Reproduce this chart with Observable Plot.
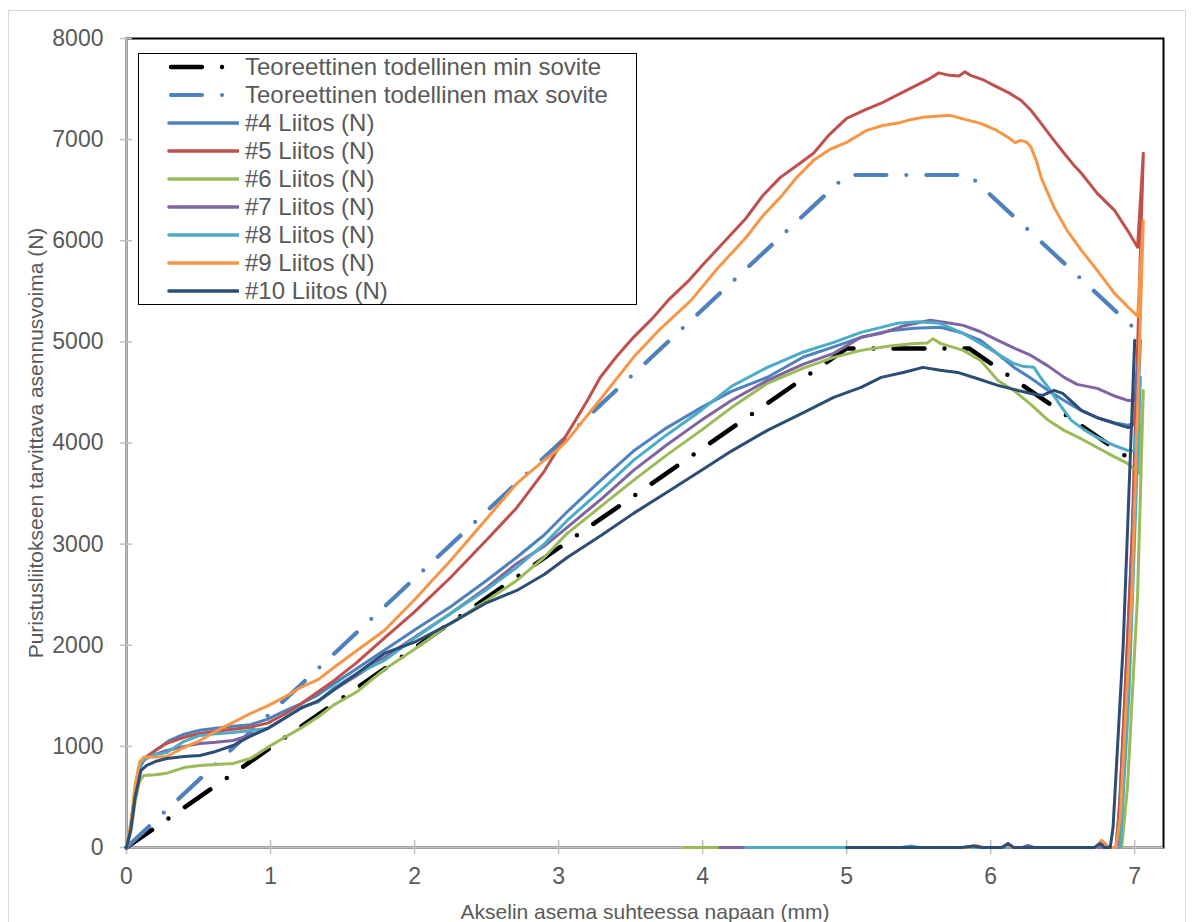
<!DOCTYPE html>
<html><head><meta charset="utf-8">
<script src="https://cdn.jsdelivr.net/npm/d3@7"></script>
<script src="https://cdn.jsdelivr.net/npm/@observablehq/plot@0.6"></script>
<style>
body{margin:0;background:#fff;}
#wrap{position:relative;width:1192px;height:922px;overflow:hidden;font-family:"Liberation Sans",Arial,sans-serif;}
#outer{position:absolute;left:8px;top:10px;width:1176px;height:930px;border:1.5px solid #d9d9d9;pointer-events:none;}
#legend{position:absolute;left:138px;top:53px;width:497px;height:250px;border:1.5px solid #000;background:#fff;}
.lrow{position:absolute;left:0;height:28px;display:flex;align-items:center;}
.lrow span{font-size:24px;color:#595959;margin-left:6px;white-space:nowrap;line-height:28px;}
</style></head><body><div id="wrap"></div>
<script>
// ---- data ----
const xTicks = [0, 1, 2, 3, 4, 5, 6, 7];
const yTicks = [0, 1000, 2000, 3000, 4000, 5000, 6000, 7000, 8000];
const xLabel = "Akselin asema suhteessa napaan (mm)";
const yLabel = "Puristusliitokseen tarvittava asennusvoima (N)";

const theoryNames = ["Teoreettinen todellinen min sovite", "Teoreettinen todellinen max sovite"];
const theoryColors = ["#000000", "#4f81bd"];
const theoryMin = [[0, 0], [5.0, 4935], [5.85, 4935], [7.0, 3810]];
const theoryMax = [[0, 0], [5.0, 6650], [5.85, 6650], [7.0, 5130]];

const seriesNames = ["#4 Liitos (N)", "#5 Liitos (N)", "#6 Liitos (N)", "#7 Liitos (N)", "#8 Liitos (N)", "#9 Liitos (N)", "#10 Liitos (N)"];
const seriesColors = ["#4f81bd", "#c0504d", "#9bbb59", "#8064a2", "#4bacc6", "#f79646", "#2c4d75"];

const s4 = [[0,0],[0.03,200],[0.06,550],[0.09,780],[0.12,860],[0.2,960],[0.3,1060],[0.4,1120],[0.51,1160],[0.62,1180],[0.74,1200],[0.86,1215],[0.98,1270],[1.1,1350],[1.21,1420],[1.33,1510],[1.44,1620],[1.6,1770],[1.79,1950],[2.0,2150],[2.25,2380],[2.5,2640],[2.71,2870],[2.9,3090],[3.06,3320],[3.3,3640],[3.52,3920],[3.75,4150],[3.99,4350],[4.2,4510],[4.45,4650],[4.7,4850],[4.91,4950],[5.1,5045],[5.3,5110],[5.47,5135],[5.65,5145],[5.8,5090],[5.93,5015],[6.05,4880],[6.16,4750],[6.28,4640],[6.4,4520],[6.51,4420],[6.63,4320],[6.74,4250],[6.86,4200],[6.95,4175],[7.0,4190],[7.04,5015],[6.95,2000],[6.89,300],[6.87,0],[6.8,0],[6.77,40],[6.73,0],[6.15,0],[6.12,20],[6.08,0],[5.92,0],[5.88,15],[5.82,0],[5.2,0]];
const s5 = [[0,0],[0.03,200],[0.06,560],[0.09,800],[0.12,880],[0.2,960],[0.28,1030],[0.4,1090],[0.51,1128],[0.62,1150],[0.74,1170],[0.86,1190],[0.98,1230],[1.1,1320],[1.21,1420],[1.33,1540],[1.44,1650],[1.6,1830],[1.79,2070],[2.0,2330],[2.25,2670],[2.5,3040],[2.71,3360],[2.9,3720],[3.06,4090],[3.2,4420],[3.29,4650],[3.4,4850],[3.52,5045],[3.65,5230],[3.76,5410],[3.9,5600],[4.0,5760],[4.15,5990],[4.3,6220],[4.42,6450],[4.54,6627],[4.65,6740],[4.77,6865],[4.88,7050],[5.0,7210],[5.12,7290],[5.24,7360],[5.35,7440],[5.46,7520],[5.58,7606],[5.64,7660],[5.7,7640],[5.78,7630],[5.82,7670],[5.86,7636],[5.95,7590],[6.05,7517],[6.13,7460],[6.21,7389],[6.28,7290],[6.35,7161],[6.43,7010],[6.51,6865],[6.57,6760],[6.63,6667],[6.74,6469],[6.86,6300],[6.95,6103],[7.02,5935],[7.06,6865],[6.98,3000],[6.9,500],[6.87,0],[6.82,0],[6.78,60],[6.73,0],[5.3,0]];
const s6 = [[0,0],[0.03,150],[0.06,450],[0.09,650],[0.12,712],[0.2,720],[0.28,735],[0.4,790],[0.51,811],[0.62,820],[0.74,831],[0.86,880],[0.98,990],[1.1,1090],[1.21,1180],[1.33,1290],[1.44,1410],[1.6,1540],[1.79,1760],[2.0,1960],[2.25,2216],[2.5,2440],[2.71,2641],[2.9,2870],[3.06,3106],[3.3,3380],[3.52,3630],[3.75,3880],[3.99,4125],[4.2,4350],[4.45,4590],[4.7,4740],[4.91,4847],[5.1,4916],[5.3,4960],[5.47,4985],[5.56,4990],[5.6,5030],[5.65,4985],[5.81,4916],[5.93,4817],[6.05,4619],[6.16,4520],[6.28,4380],[6.4,4224],[6.51,4125],[6.63,4040],[6.74,3956],[6.85,3870],[6.95,3798],[7.03,3700],[7.06,4520],[7.02,2500],[6.95,600],[6.91,0],[6.8,0],[3.87,0]];
const s7 = [[0,0],[0.03,200],[0.06,550],[0.09,790],[0.12,870],[0.2,920],[0.28,960],[0.4,1000],[0.51,1029],[0.62,1040],[0.74,1058],[0.86,1110],[0.98,1177],[1.1,1280],[1.21,1385],[1.33,1440],[1.44,1560],[1.6,1700],[1.79,1880],[2.0,2080],[2.25,2315],[2.5,2570],[2.71,2809],[2.9,2980],[3.06,3165],[3.3,3450],[3.52,3729],[3.75,3980],[3.99,4224],[4.2,4420],[4.45,4619],[4.7,4780],[4.91,4886],[5.1,5045],[5.24,5084],[5.4,5160],[5.58,5213],[5.7,5190],[5.81,5163],[5.93,5100],[6.05,5015],[6.16,4940],[6.28,4866],[6.4,4760],[6.51,4649],[6.6,4580],[6.74,4540],[6.85,4470],[6.95,4421],[7.0,4420],[7.03,4900],[6.95,1500],[6.89,0],[6.3,0],[6.26,20],[6.22,0],[4.12,0]];
const s8 = [[0,0],[0.03,200],[0.06,560],[0.09,800],[0.12,870],[0.2,920],[0.28,940],[0.4,1050],[0.51,1108],[0.62,1125],[0.74,1138],[0.86,1157],[0.98,1177],[1.1,1280],[1.21,1385],[1.33,1440],[1.44,1580],[1.6,1720],[1.79,1850],[2.0,2070],[2.25,2315],[2.5,2550],[2.71,2770],[2.9,3000],[3.06,3234],[3.3,3540],[3.52,3828],[3.75,4080],[3.99,4322],[4.2,4560],[4.45,4748],[4.7,4900],[4.91,4995],[5.1,5094],[5.35,5183],[5.5,5200],[5.65,5183],[5.8,5090],[5.93,4985],[6.05,4880],[6.16,4787],[6.22,4760],[6.3,4748],[6.35,4640],[6.4,4550],[6.48,4380],[6.56,4224],[6.65,4130],[6.74,4055],[6.85,3980],[6.95,3927],[7.0,3920],[7.04,4650],[6.96,1500],[6.9,0],[6.8,0],[6.76,30],[6.72,0],[5.5,0],[5.45,15],[5.38,0],[4.3,0]];
const s9 = [[0,0],[0.03,250],[0.06,620],[0.09,840],[0.12,893],[0.2,895],[0.28,900],[0.4,990],[0.51,1058],[0.62,1150],[0.74,1237],[0.86,1325],[0.98,1400],[1.1,1490],[1.21,1583],[1.33,1660],[1.44,1780],[1.6,1948],[1.79,2146],[2.0,2450],[2.25,2839],[2.5,3250],[2.71,3600],[2.9,3830],[2.99,3927],[3.06,4026],[3.3,4450],[3.52,4847],[3.7,5120],[3.92,5410],[4.1,5720],[4.3,6030],[4.42,6250],[4.54,6429],[4.65,6620],[4.77,6795],[4.88,6900],[5.0,6973],[5.14,7092],[5.25,7140],[5.35,7161],[5.45,7200],[5.53,7221],[5.62,7230],[5.72,7240],[5.82,7200],[5.93,7161],[6.03,7100],[6.12,7023],[6.17,6970],[6.21,6993],[6.25,6975],[6.28,6924],[6.32,6780],[6.35,6627],[6.44,6330],[6.53,6103],[6.63,5905],[6.74,5707],[6.86,5480],[6.95,5350],[7.0,5282],[7.02,5250],[7.06,6200],[6.98,2500],[6.9,300],[6.87,0],[6.82,0],[6.77,70],[6.73,0],[6.15,0],[6.11,25],[6.07,0],[5.95,0],[5.9,20],[5.84,0],[5.3,0]];
const s10 = [[0,0],[0.03,180],[0.06,500],[0.1,760],[0.14,811],[0.2,850],[0.28,880],[0.4,900],[0.51,910],[0.62,950],[0.74,1009],[0.86,1100],[0.98,1177],[1.1,1280],[1.21,1375],[1.33,1450],[1.44,1560],[1.6,1720],[1.79,1919],[2.0,2030],[2.25,2216],[2.5,2420],[2.71,2542],[2.9,2700],[3.06,2868],[3.3,3090],[3.52,3304],[3.75,3510],[3.99,3729],[4.2,3920],[4.45,4125],[4.7,4300],[4.91,4451],[5.1,4550],[5.24,4649],[5.4,4700],[5.53,4748],[5.65,4720],[5.77,4698],[5.9,4640],[6.05,4570],[6.16,4530],[6.28,4490],[6.36,4470],[6.44,4520],[6.5,4490],[6.63,4322],[6.74,4250],[6.86,4194],[6.95,4154],[6.98,4160],[7.0,5015],[6.92,2000],[6.85,200],[6.83,0],[6.79,0],[6.76,40],[6.72,0],[6.16,0],[6.12,40],[6.08,0],[5.94,0],[5.88,15],[5.8,0],[5.0,0]];
const seriesData = [s4, s5, s6, s7, s8, s9, s10];

// ---- build tables ----
const rows = seriesData.flatMap((pts, i) => pts.map(([x, y]) => ({series: seriesNames[i], x, y})));
const minRows = theoryMin.map(([x, y]) => ({x, y}));
const maxRows = theoryMax.map(([x, y]) => ({x, y}));

const FONT = '"Liberation Sans", Arial, sans-serif';
const DASH = "31,20,0,20";
const axisGray = "#bfbfbf";

const chart = Plot.plot({
  width: 1192, height: 922,
  marginLeft: 126, marginRight: 29, marginTop: 38, marginBottom: 75,
  x: {domain: [0, 7.2]},
  y: {domain: [0, 8000]},
  color: {domain: seriesNames, range: seriesColors},
  style: {fontFamily: FONT, fontSize: "23px", color: "#595959", background: "white"},
  marks: [
    Plot.frame({stroke: "#000", strokeWidth: 2}),
    Plot.axisY({ticks: yTicks, tickSize: 12, dx: 6, fill: "none", stroke: axisGray, strokeWidth: 1.5, label: null}),
    Plot.axisY({ticks: yTicks, tickSize: 0, tickPadding: 23, tickFormat: d => String(d), fill: "#595959", fontSize: 23, label: null}),
    Plot.axisX({ticks: xTicks, tickSize: 14, dy: -7, fill: "none", stroke: axisGray, strokeWidth: 1.5, label: null}),
    Plot.axisX({ticks: xTicks, tickSize: 0, tickPadding: 20, tickFormat: d => String(d), fill: "#595959", fontSize: 23, label: null}),
    Plot.ruleX([0], {stroke: axisGray, strokeWidth: 2}),
    Plot.ruleY([0], {stroke: axisGray, strokeWidth: 2}),
    Plot.line(minRows, {x: "x", y: "y", stroke: theoryColors[0], strokeWidth: 4.5, strokeDasharray: DASH, strokeLinecap: "round"}),
    Plot.line(maxRows, {x: "x", y: "y", stroke: theoryColors[1], strokeWidth: 4.2, strokeDasharray: DASH, strokeLinecap: "round"}),
    Plot.line(rows, {x: "x", y: "y", z: "series", stroke: "series", strokeWidth: 3, strokeLinejoin: "round"}),
    Plot.text([xLabel], {frameAnchor: "bottom", lineAnchor: "bottom", dy: 71, fontSize: 21, fill: "#595959"}),
    Plot.text([yLabel], {frameAnchor: "left", textAnchor: "middle", rotate: -90, lineAnchor: "middle", dx: -90, fontSize: 21, fill: "#595959"})
  ]
});

const wrap = document.getElementById("wrap");
wrap.appendChild(chart);

// legend
const legend = document.createElement("div");
legend.id = "legend";
const items = [
  ...theoryNames.map((n, i) => ({name: n, color: theoryColors[i], dash: true, w: i === 0 ? 4.5 : 4.2})),
  ...seriesNames.map((n, i) => ({name: n, color: seriesColors[i], dash: false, w: 3.6}))
];
items.forEach((it, k) => {
  const row = document.createElement("div");
  row.className = "lrow";
  row.style.top = (-1 + 28 * k) + "px";
  const line = it.dash
    ? `<line x1="32" y1="14" x2="99" y2="14" stroke="${it.color}" stroke-width="${it.w}" stroke-dasharray="${DASH}" stroke-linecap="round"/>`
    : `<line x1="30" y1="14" x2="99" y2="14" stroke="${it.color}" stroke-width="${it.w}" stroke-linecap="round"/>`;
  row.innerHTML = `<svg width="100" height="28" style="display:block">${line}</svg><span>${it.name}</span>`;
  legend.appendChild(row);
});
wrap.appendChild(legend);

const outer = document.createElement("div");
outer.id = "outer";
wrap.appendChild(outer);
</script>
</body></html>
